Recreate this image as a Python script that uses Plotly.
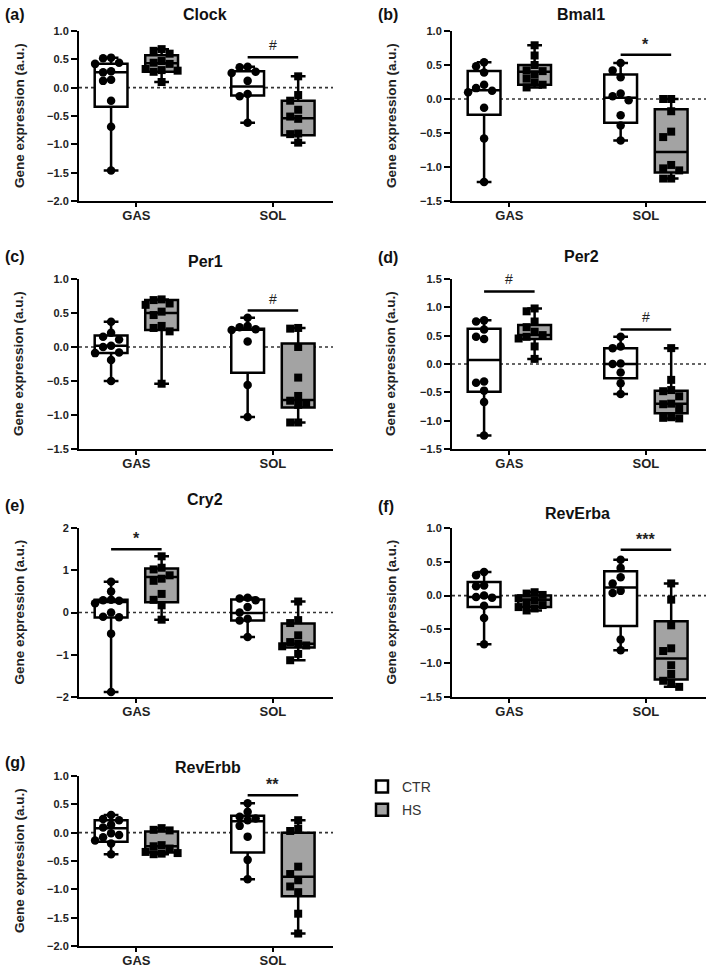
import plotly.graph_objects as go

W, H = 708, 968
GROUPS = ["GAS", "SOL"]
CONDITIONS = ["CTR", "HS"]

# ---------------- data ----------------
# (a) Clock
CLOCK_GAS_CTR = [0.53, 0.52, 0.44, 0.42, 0.29, 0.27, 0.14, 0.12, -0.23, -0.69, -1.46]
CLOCK_GAS_HS = [0.68, 0.65, 0.60, 0.47, 0.44, 0.42, 0.33, 0.31, 0.30, 0.28, 0.10]
CLOCK_SOL_CTR = [0.37, 0.36, 0.28, 0.26, 0.12, -0.11, -0.15, -0.62]
CLOCK_SOL_HS = [0.20, -0.13, -0.23, -0.39, -0.51, -0.55, -0.81, -0.82, -0.97]
# box stats, order: GAS-CTR, GAS-HS, SOL-CTR, SOL-HS
CLOCK_Q1 = [-0.335, 0.28, -0.14, -0.84]
CLOCK_MED = [0.27, 0.43, 0.02, -0.54]
CLOCK_Q3 = [0.42, 0.57, 0.29, -0.23]
CLOCK_SIG = [("SOL", 0.535, "#")]

# (b) Bmal1
BMAL1_GAS_CTR = [0.54, 0.48, 0.39, 0.21, 0.16, 0.12, 0.10, -0.13, -0.58, -1.22]
BMAL1_GAS_HS = [0.79, 0.64, 0.50, 0.42, 0.41, 0.36, 0.30, 0.24, 0.21, 0.17]
BMAL1_SOL_CTR = [0.53, 0.42, 0.32, 0.08, 0.04, -0.02, -0.24, -0.39, -0.61]
BMAL1_SOL_HS = [0.0, 0.0, -0.18, -0.48, -0.56, -0.97, -1.02, -1.05, -1.17, -1.17]
BMAL1_Q1 = [-0.23, 0.21, -0.35, -1.08]
BMAL1_MED = [0.13, 0.40, 0.02, -0.78]
BMAL1_Q3 = [0.41, 0.50, 0.36, -0.15]
BMAL1_SIG = [("SOL", 0.65, "*")]

# (c) Per1
PER1_GAS_CTR = [0.37, 0.21, 0.15, 0.11, 0.02, 0.0, -0.08, -0.09, -0.19, -0.50]
PER1_GAS_HS = [0.70, 0.69, 0.64, 0.62, 0.52, 0.47, 0.31, 0.28, 0.23, -0.54]
PER1_SOL_CTR = [0.43, 0.31, 0.29, 0.26, 0.25, 0.08, -0.56, -1.03]
PER1_SOL_HS = [0.28, 0.27, 0.0, -0.45, -0.72, -0.79, -0.83, -0.85, -1.11, -1.11]
PER1_Q1 = [-0.09, 0.25, -0.38, -0.89]
PER1_MED = [0.02, 0.50, 0.26, -0.78]
PER1_Q3 = [0.17, 0.69, 0.27, 0.05]
PER1_SIG = [("SOL", 0.535, "#")]

# (d) Per2
PER2_GAS_CTR = [0.77, 0.75, 0.61, 0.48, 0.44, -0.31, -0.33, -0.47, -0.67, -1.26]
PER2_GAS_HS = [0.98, 0.93, 0.75, 0.65, 0.57, 0.51, 0.48, 0.45, 0.31, 0.09]
PER2_SOL_CTR = [0.48, 0.31, 0.28, 0.01, 0.0, -0.15, -0.34, -0.53]
PER2_SOL_HS = [0.28, -0.28, -0.46, -0.48, -0.57, -0.70, -0.71, -0.78, -0.94, -0.95, -0.96]
PER2_Q1 = [-0.49, 0.44, -0.25, -0.87]
PER2_MED = [0.07, 0.51, 0.0, -0.70]
PER2_Q3 = [0.62, 0.69, 0.28, -0.47]
PER2_SIG = [("GAS", 1.28, "#"), ("SOL", 0.61, "#")]

# (e) Cry2
CRY2_GAS_CTR = [0.73, 0.50, 0.30, 0.29, 0.28, 0.22, 0.0, -0.10, -0.11, -0.50, -1.88]
CRY2_GAS_HS = [1.33, 1.06, 1.02, 0.88, 0.80, 0.75, 0.44, 0.30, 0.17, -0.17]
CRY2_SOL_CTR = [0.35, 0.33, 0.29, 0.13, 0.0, -0.15, -0.19, -0.58]
CRY2_SOL_HS = [0.26, -0.18, -0.25, -0.54, -0.70, -0.74, -0.78, -0.80, -0.98, -1.13]
CRY2_Q1 = [-0.12, 0.24, -0.19, -0.83]
CRY2_MED = [0.25, 0.84, -0.01, -0.74]
CRY2_Q3 = [0.30, 1.04, 0.31, -0.26]
CRY2_SIG = [("GAS", 1.50, "*")]

# (f) RevErba
REVERBA_GAS_CTR = [0.35, 0.30, 0.15, 0.14, 0.0, -0.02, -0.03, -0.15, -0.33, -0.72]
REVERBA_GAS_HS = [0.05, 0.03, 0.01, -0.04, -0.07, -0.10, -0.14, -0.17, -0.19, -0.22]
REVERBA_SOL_CTR = [0.53, 0.41, 0.27, 0.18, 0.07, 0.04, -0.65, -0.81]
REVERBA_SOL_HS = [0.18, -0.06, -0.44, -0.78, -0.82, -1.03, -1.16, -1.26, -1.29, -1.35]
REVERBA_Q1 = [-0.17, -0.17, -0.45, -1.24]
REVERBA_MED = [-0.02, -0.06, 0.12, -0.93]
REVERBA_Q3 = [0.20, 0.0, 0.36, -0.38]
REVERBA_SIG = [("SOL", 0.68, "***")]

# (g) RevErbb
REVERBB_GAS_CTR = [0.31, 0.24, 0.22, 0.14, 0.09, -0.01, -0.04, -0.08, -0.14, -0.19, -0.38]
REVERBB_GAS_HS = [0.08, 0.05, 0.04, -0.22, -0.24, -0.28, -0.34, -0.36, -0.37, -0.38]
REVERBB_SOL_CTR = [0.52, 0.37, 0.28, 0.25, 0.22, 0.12, -0.07, -0.48, -0.82]
REVERBB_SOL_HS = [0.22, 0.07, 0.03, -0.60, -0.73, -0.84, -0.95, -1.05, -1.43, -1.78]
REVERBB_Q1 = [-0.16, -0.35, -0.35, -1.12]
REVERBB_MED = [0.08, -0.24, 0.20, -0.78]
REVERBB_Q3 = [0.22, 0.02, 0.30, 0.0]
REVERBB_SIG = [("SOL", 0.66, "**")]

# ---------------- layout constants ----------------
PANELS = [
    ("(a)", "Clock", [CLOCK_GAS_CTR, CLOCK_GAS_HS, CLOCK_SOL_CTR, CLOCK_SOL_HS],
     CLOCK_Q1, CLOCK_MED, CLOCK_Q3, CLOCK_SIG, [-2, 1], 0.5, ".1f",
     (79, 333, 31, 201), (15, 205, 15)),
    ("(b)", "Bmal1", [BMAL1_GAS_CTR, BMAL1_GAS_HS, BMAL1_SOL_CTR, BMAL1_SOL_HS],
     BMAL1_Q1, BMAL1_MED, BMAL1_Q3, BMAL1_SIG, [-1.5, 1], 0.5, ".1f",
     (452, 706, 31, 201), (15, 581, 14)),
    ("(c)", "Per1", [PER1_GAS_CTR, PER1_GAS_HS, PER1_SOL_CTR, PER1_SOL_HS],
     PER1_Q1, PER1_MED, PER1_Q3, PER1_SIG, [-1.5, 1], 0.5, ".1f",
     (79, 333, 279, 449), (256, 205, 261)),
    ("(d)", "Per2", [PER2_GAS_CTR, PER2_GAS_HS, PER2_SOL_CTR, PER2_SOL_HS],
     PER2_Q1, PER2_MED, PER2_Q3, PER2_SIG, [-1.5, 1.5], 0.5, ".1f",
     (452, 706, 279, 449), (258, 581, 256)),
    ("(e)", "Cry2", [CRY2_GAS_CTR, CRY2_GAS_HS, CRY2_SOL_CTR, CRY2_SOL_HS],
     CRY2_Q1, CRY2_MED, CRY2_Q3, CRY2_SIG, [-2, 2], 1, "d",
     (79, 333, 528, 697), (505, 205, 499)),
    ("(f)", "RevErba", [REVERBA_GAS_CTR, REVERBA_GAS_HS, REVERBA_SOL_CTR, REVERBA_SOL_HS],
     REVERBA_Q1, REVERBA_MED, REVERBA_Q3, REVERBA_SIG, [-1.5, 1], 0.5, ".1f",
     (452, 706, 528, 697), (507, 577, 513)),
    ("(g)", "RevErbb", [REVERBB_GAS_CTR, REVERBB_GAS_HS, REVERBB_SOL_CTR, REVERBB_SOL_HS],
     REVERBB_Q1, REVERBB_MED, REVERBB_Q3, REVERBB_SIG, [-2, 1], 0.5, ".1f",
     (79, 333, 776, 946), (762, 208, 767)),
]

FONT = "Liberation Sans, Arial, sans-serif"
XRANGE = [-0.42, 1.44]
OFF = 0.185          # box offset from group centre (x units)
BOXW = 0.24          # box width (x units)
FILLS = {"CTR": "white", "HS": "#a3a3a3"}
SYMBOLS = {"CTR": "circle", "HS": "square"}
MSIZE = {"CTR": 8.5, "HS": 8}


def swarm(vals, ypx, xpx):
    """Horizontal offsets (x units) so that points do not overlap."""
    d = 8.0
    placed, out = [], []
    for v in vals:
        best, best_score = 0.0, -1
        for k in [0, -1, 1, -2, 2]:
            dx = k * d
            mind = min([((v - pv) * ypx) ** 2 + (dx - pdx) ** 2 for pv, pdx in placed] or [1e9])
            if mind >= d * d:
                best = dx
                break
            if mind > best_score:
                best_score, best = mind, dx
        placed.append((v, best))
        out.append(best / xpx)
    return out


fig = go.Figure()
shapes, annotations = [], []
layout = {}

for i, (letter, title, samples, q1, med, q3, sig, yr, dt, tf, box, tpos) in enumerate(PANELS):
    n = i + 1
    suffix = "" if n == 1 else str(n)
    xa, ya = f"x{suffix}", f"y{suffix}"
    x0, x1, y0, y1 = box
    xpx = (x1 - x0) / (XRANGE[1] - XRANGE[0])
    ypx = (y1 - y0) / (yr[1] - yr[0])
    gpos = {g: k for k, g in enumerate(GROUPS)}

    for c, cond in enumerate(CONDITIONS):
        sign = -1 if cond == "CTR" else 1
        idx = [c, 2 + c]  # GAS, SOL for this condition
        pos = [gpos[g] + sign * OFF for g in GROUPS]
        fig.add_trace(go.Box(
            x=pos, q1=[q1[j] for j in idx], median=[med[j] for j in idx], q3=[q3[j] for j in idx],
            lowerfence=[min(samples[j]) for j in idx], upperfence=[max(samples[j]) for j in idx],
            width=BOXW, whiskerwidth=0.45, boxpoints=False, fillcolor=FILLS[cond],
            line=dict(color="black", width=2.5), name=cond, legendgroup=cond,
            showlegend=(n == len(PANELS)), hoverinfo="skip", xaxis=xa, yaxis=ya,
        ))
        for g, j in zip(GROUPS, idx):
            vals = samples[j]
            offs = swarm(vals, ypx, xpx)
            fig.add_trace(go.Scatter(
                x=[gpos[g] + sign * OFF + o for o in offs], y=vals, mode="markers",
                marker=dict(symbol=SYMBOLS[cond], size=MSIZE[cond], color="black"),
                showlegend=False, hoverinfo="skip", cliponaxis=False, xaxis=xa, yaxis=ya,
            ))

    layout[f"xaxis{suffix}"] = dict(
        domain=[x0 / W, x1 / W], anchor=ya, range=XRANGE, showgrid=False, zeroline=False,
        showline=True, linecolor="black", linewidth=2, ticks="outside", ticklen=4, tickwidth=2,
        tickcolor="black", tickvals=[0, 1], ticktext=GROUPS, automargin=False,
        ticklabelstandoff=-3,
        tickfont=dict(family=FONT, size=13, color="#222", weight="bold"),
    )
    layout[f"yaxis{suffix}"] = dict(
        domain=[1 - y1 / H, 1 - y0 / H], anchor=xa, range=yr, dtick=dt, tick0=0, tickformat=tf,
        showgrid=False, zeroline=False, showline=True, linecolor="black", linewidth=2,
        ticks="outside", ticklen=6, tickwidth=2, tickcolor="black", automargin=False,
        tickfont=dict(family=FONT, size=11, color="#222", weight="bold"),
    )

    # dotted zero line behind boxes
    shapes.append(dict(type="line", xref=f"{xa} domain", yref=ya, x0=0, x1=1, y0=0, y1=0,
                       line=dict(color="#333", width=1.6, dash="dot"), layer="below"))

    # significance bars
    for g, yv, lab in sig:
        gx = gpos[g]
        shapes.append(dict(type="line", xref=xa, yref=ya, x0=gx - OFF, x1=gx + OFF, y0=yv, y1=yv,
                           line=dict(color="black", width=2.5)))
        star = "*" in lab
        annotations.append(dict(
            xref=xa, yref=ya, x=gx, y=yv, text=lab, showarrow=False, yanchor="bottom",
            yshift=0 if star else 2,
            font=dict(family=FONT, size=16 if star else 14, color="#222",
                      weight="bold" if star else "normal"),
        ))

    # panel letter, title, y-axis title
    ly, tx, ty = tpos
    lx = 3 if x0 < 200 else 376
    annotations.append(dict(xref="paper", yref="paper", x=lx / W, y=1 - ly / H, text=letter,
                            showarrow=False, xanchor="left", yanchor="middle",
                            font=dict(family=FONT, size=16, color="#111", weight="bold")))
    annotations.append(dict(xref="paper", yref="paper", x=tx / W, y=1 - ty / H, text=title,
                            showarrow=False, xanchor="center", yanchor="middle",
                            font=dict(family=FONT, size=16, color="#111", weight="bold")))
    yt_x = 19 if x0 < 200 else 391
    annotations.append(dict(xref="paper", yref="paper", x=yt_x / W, y=1 - (y0 + y1) / 2 / H,
                            text="Gene expression (a.u.)", textangle=-90, showarrow=False,
                            xanchor="center", yanchor="middle",
                            font=dict(family=FONT, size=13.5, color="#222", weight="bold")))

fig.update_layout(
    width=W, height=H, margin=dict(l=0, r=0, t=0, b=0, autoexpand=False),
    paper_bgcolor="white", plot_bgcolor="white",
    shapes=shapes, annotations=annotations,
    legend=dict(x=362 / W, y=1 - 771 / H, xanchor="left", yanchor="top", itemwidth=30,
                font=dict(family=FONT, size=14, color="#333"), bgcolor="rgba(0,0,0,0)",
                tracegroupgap=2),
    **layout,
)

fig.write_html("out.html", config={"displayModeBar": False},
               post_script="document.body.style.margin='0';")
